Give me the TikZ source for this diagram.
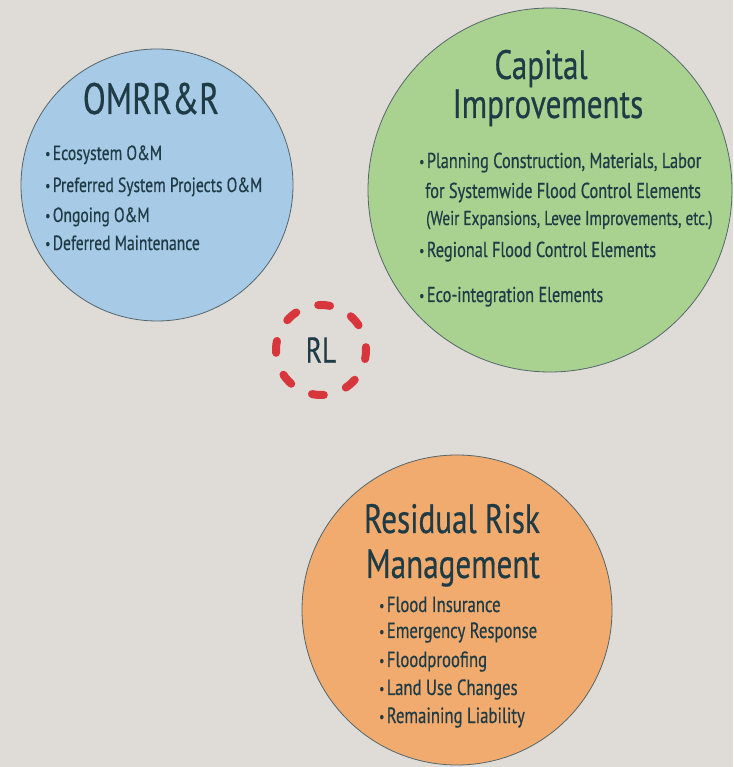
\documentclass[tikz,border=0pt]{standalone}
\usepackage{fontspec}
\setmainfont{PT Sans}[FakeStretch=0.76, FakeBold=0.5]
\usetikzlibrary{calc}
\definecolor{bgsand}{HTML}{DFDBD7}
\definecolor{omrrblue}{HTML}{A7CAE6}
\definecolor{capgreen}{HTML}{A9D18F}
\definecolor{resorange}{HTML}{F1AB6E}
\definecolor{rimgray}{HTML}{55666B}
\definecolor{ink}{HTML}{1F3C46}
\definecolor{rlred}{HTML}{D8363D}
\def\centerarc[#1](#2)(#3:#4:#5){\draw[#1] ($(#2)+({#5*cos(#3)},{#5*sin(#3)})$) arc (#3:#4:#5);}
\def\bul{\raisebox{1.2pt}{\fontsize{15}{15}\selectfont •}\hspace{2.5pt}}
\tikzset{
	bubble/.style={circle, draw=rimgray, line width=0.8pt, inner sep=0pt, minimum size=#1},
	heading/.style={font=\fontsize{41}{41}\selectfont, text=ink, anchor=base, inner sep=0pt},
	entry/.style={font=\fontsize{21.5}{24}\selectfont, text=ink, anchor=base west, inner sep=0pt},
	rldash/.style={rlred, line width=8pt, line cap=round}
}

\begin{document}
\begin{tikzpicture}[x=1pt,y=1pt]
				\useasboundingbox (0,0) rectangle (733,767);
				\fill[bgsand] (0,0) rectangle (733,767);
				
				% OMRR&R
				\node[bubble=272pt, fill=omrrblue] (omrr) at (157,582) {};
				\node[heading, font=\fontsize{44}{44}\selectfont] (omrr-title) at (151,653) {OMRR\&R};
				\node[entry, font=\fontsize{20.5}{24}\selectfont] (omrr-1) at (45,607) {\bul Ecosystem O\&M};
				\node[entry, font=\fontsize{20.5}{24}\selectfont] (omrr-2) at (45,575) {\bul Preferred System Projects O\&M};
				\node[entry, font=\fontsize{20.5}{24}\selectfont] (omrr-3) at (45,545) {\bul Ongoing O\&M};
				\node[entry, font=\fontsize{20.5}{24}\selectfont] (omrr-4) at (45,517) {\bul Deferred Maintenance};
				
				% Capital Improvements
				\node[bubble=364pt, fill=capgreen] (cap) at (550,577) {};
				\node[heading] (cap-title1) at (541,688) {Capital};
				\node[heading] (cap-title2) at (548,649) {Improvements};
				\node[entry] (cap-1) at (419,599) {\bul Planning Construction, Materials, Labor};
				\node[entry] (cap-1b) at (425,569) {for Systemwide Flood Control Elements};
				\node[entry, font=\fontsize{20}{22}\selectfont] (cap-1c) at (426,542) {(Weir Expansions, Levee Improvements, etc.)};
				\node[entry] (cap-2) at (419,510) {\bul Regional Flood Control Elements};
				\node[entry] (cap-3) at (419,465) {\bul Eco-integration Elements};
				
				% Residual Risk Management
				\node[bubble=310pt, fill=resorange] (res) at (457,157) {};
				\node[heading] (res-title1) at (452,234) {Residual Risk};
				\node[heading] (res-title2) at (453,189) {Management};
				\node[entry, font=\fontsize{22}{24}\selectfont] (res-1) at (379,155) {\bul Flood Insurance};
				\node[entry, font=\fontsize{22}{24}\selectfont] (res-2) at (379,129) {\bul Emergency Response};
				\node[entry, font=\fontsize{22}{24}\selectfont] (res-3) at (379,100) {\bul Floodproofing};
				\node[entry, font=\fontsize{22}{24}\selectfont] (res-4) at (379,72) {\bul Land Use Changes};
				\node[entry, font=\fontsize{22}{24}\selectfont] (res-5) at (379,44) {\bul Remaining Liability};
				
				% RL
				\node[text=ink, font=\fontsize{36}{36}\selectfont, inner sep=0pt] (rl) at (321,417) {RL};
				\foreach \a in {-4,41,...,311}
					\centerarc[rldash](rl)(\a-7.6:\a+7.6:45);
\end{tikzpicture}
\end{document}
